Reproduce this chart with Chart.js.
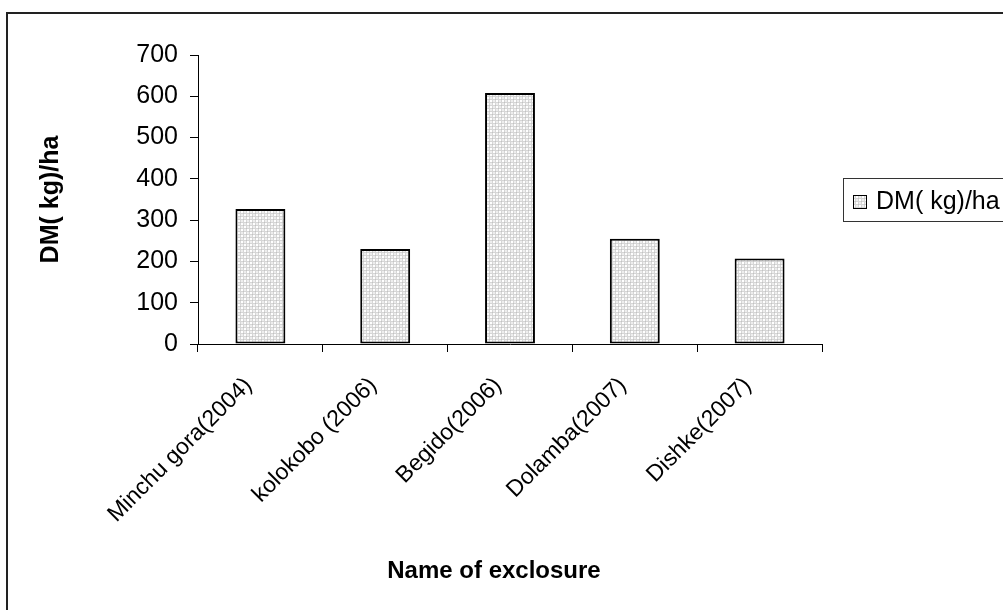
<!DOCTYPE html>
<html>
<head>
<meta charset="utf-8">
<title>DM (kg)/ha by exclosure</title>
<script src="https://cdn.jsdelivr.net/npm/chart.js@4/dist/chart.umd.min.js"></script>
<style>
  html, body { margin: 0; padding: 0; background: #ffffff; }
  #chart { display: block; }
</style>
</head>
<body>
<canvas id="chart" width="1003" height="610"></canvas>
<script>
// Dry matter yield per exclosure
const categories = ['Minchu gora(2004)', 'kolokobo (2006)', 'Begido(2006)', 'Dolamba(2007)', 'Dishke(2007)'];
const dmValues = [327, 230, 608, 255, 207];
const seriesName = 'DM( kg)/ha';
const yAxisTitle = 'DM( kg)/ha';
const xAxisTitle = 'Name of exclosure';
const yTickValues = [0, 100, 200, 300, 400, 500, 600, 700];

const FONT = "'Liberation Sans', Arial, Helvetica, sans-serif";

const canvas = document.getElementById('chart');
const ctx = canvas.getContext('2d');

// Light grey dotted fill used for the bars and the legend key
function makeDotFill(c) {
  const t = document.createElement('canvas');
  t.width = 6; t.height = 6;
  const g = t.getContext('2d');
  g.fillStyle = '#d6d6d6'; g.fillRect(0, 0, 6, 6);
  g.fillStyle = '#ffffff'; g.fillRect(1, 1, 2, 2); g.fillRect(4, 4, 2, 2);
  g.fillStyle = '#eeeeee'; g.fillRect(4, 1, 2, 2); g.fillRect(1, 4, 2, 2);
  g.fillStyle = '#c4c4c4'; g.fillRect(0, 0, 1, 1); g.fillRect(3, 3, 1, 1);
  return c.createPattern(t, 'repeat');
}
const dotFill = makeDotFill(ctx);

// White page with the outer frame
const framePlugin = {
  id: 'frame',
  beforeDraw(chart) {
    const c = chart.ctx;
    c.save();
    c.fillStyle = '#ffffff';
    c.fillRect(0, 0, chart.width, chart.height);
    c.strokeStyle = '#222222';
    c.lineWidth = 2;
    c.strokeRect(7, 13, chart.width + 20, chart.height + 20);
    c.restore();
  }
};

// Category axis title, set a little left of the plot centre
const xTitlePlugin = {
  id: 'xTitle',
  afterDraw(chart) {
    const c = chart.ctx;
    c.save();
    c.fillStyle = '#000000';
    c.font = 'bold 24px ' + FONT;
    c.textAlign = 'center';
    c.textBaseline = 'middle';
    c.fillText(xAxisTitle, 494, 571);
    c.restore();
  }
};

// Boxed legend to the right of the plot
const boxLegend = {
  id: 'boxLegend',
  afterDraw(chart) {
    const c = chart.ctx;
    const ds = chart.data.datasets[0];
    c.save();
    c.fillStyle = '#ffffff';
    c.fillRect(843, 178, 200, 43);
    c.strokeStyle = '#333333';
    c.lineWidth = 1;
    c.strokeRect(843.5, 178.5, 200, 43);
    c.fillStyle = ds.backgroundColor;
    c.fillRect(853, 195, 14, 14);
    c.strokeStyle = '#000000';
    c.strokeRect(853.5, 195.5, 13, 13);
    c.fillStyle = '#000000';
    c.font = '25px ' + FONT;
    c.textBaseline = 'middle';
    c.textAlign = 'left';
    c.fillText(ds.label, 876, 202);
    c.restore();
  }
};

new Chart(ctx, {
  type: 'bar',
  data: {
    labels: categories,
    datasets: [{
      label: seriesName,
      data: dmValues,
      backgroundColor: dotFill,
      borderColor: '#000000',
      borderWidth: 2,
      borderSkipped: false,
      barPercentage: 0.4,
      categoryPercentage: 1.0
    }]
  },
  options: {
    responsive: false,
    animation: false,
    devicePixelRatio: 1,
    layout: { padding: { left: 0, top: 55, right: 181, bottom: 0 } },
    plugins: {
      legend: { display: false },
      tooltip: { enabled: false }
    },
    scales: {
      x: {
        offset: true,
        grid: { display: true, drawOnChartArea: false, drawTicks: true, tickLength: 8, color: '#000000', lineWidth: 1, offset: true },
        border: { display: true, color: '#000000', width: 1 },
        ticks: {
          color: '#000000',
          font: { family: FONT, size: 23 },
          minRotation: 45, maxRotation: 45,
          autoSkip: false,
          padding: 20,
          labelOffset: -12
        },
        title: { display: false },
        afterFit(scale) { scale.height = 610 - 344; }
      },
      y: {
        min: 0,
        max: 700,
        afterBuildTicks(scale) { scale.ticks = yTickValues.map(v => ({ value: v })); },
        grid: { display: true, drawOnChartArea: false, drawTicks: true, tickLength: 8, color: '#000000', lineWidth: 1 },
        border: { display: true, color: '#000000', width: 1 },
        ticks: {
          color: '#000000',
          font: { family: FONT, size: 25 },
          padding: 12
        },
        title: {
          display: true,
          text: yAxisTitle,
          color: '#000000',
          font: { family: FONT, size: 25, weight: 'bold' },
          padding: { top: 36, bottom: 0 }
        },
        afterFit(scale) { scale.width = 198; }
      }
    }
  },
  plugins: [framePlugin, xTitlePlugin, boxLegend]
});
</script>
</body>
</html>
